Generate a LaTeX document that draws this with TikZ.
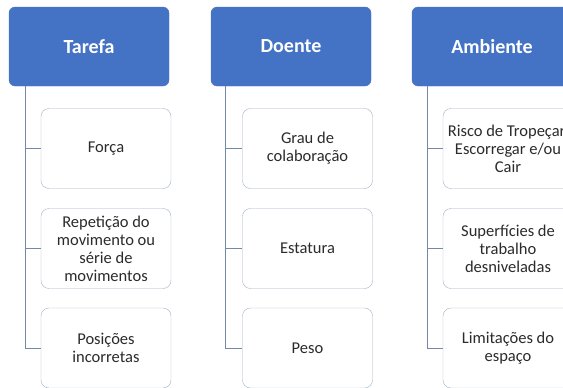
\documentclass[tikz,border=0pt]{standalone}
\usepackage{fontspec}
\setmainfont{Carlito}
\definecolor{hdblue}{HTML}{4472C4}
\definecolor{boxline}{HTML}{A3B1C6}
\definecolor{linkline}{HTML}{7488A8}
\definecolor{txtgray}{HTML}{2B2B2B}
\tikzset{
  head/.style={draw=hdblue, fill=hdblue, rounded corners=6pt, minimum width=160pt,
    minimum height=79pt, inner sep=0pt, text=white, font=\fontsize{20}{24}\selectfont\bfseries},
  item/.style={draw=boxline, fill=white, rounded corners=8pt, minimum width=130pt,
    minimum height=80pt, inner sep=0pt, align=center, text=txtgray,
    font=\fontsize{16.5}{18}\selectfont},
  link/.style={draw=linkline, line width=1pt}
}
\begin{document}
\begin{tikzpicture}[x=1pt,y=-1pt]
\useasboundingbox (0,0) rectangle (563,388);
\clip (0,0) rectangle (563,388);

\node[head] (tar) at (89,46.5) {Tarefa};
\node[head] (doe) at (291,46.5) {Doente};
\node[head] (amb) at (492,46.5) {Ambiente};

\node[item] (tar1) at (106,148.5) {Força};
\node[item] (tar2) at (106,248.5) {Repetição do\\movimento ou\\série de\\movimentos};
\node[item] (tar3) at (106,348) {Posições\\incorretas};

\node[item] (doe1) at (307.5,148.5) {Grau de\\colaboração};
\node[item] (doe2) at (307.5,248.5) {Estatura};
\node[item] (doe3) at (307.5,348) {Peso};

\node[item] (amb1) at (508,148.5) {Risco de Tropeçar,\\Escorregar e/ou\\Cair};
\node[item] (amb2) at (508,248.5) {Superfícies de\\trabalho\\desniveladas};
\node[item] (amb3) at (508,348) {Limitações do\\espaço};

\path[link] ([xshift=17pt]tar.south west) |- (tar1.west);
\path[link] ([xshift=17pt]tar.south west) |- (tar2.west);
\path[link] ([xshift=17pt]tar.south west) |- (tar3.west);

\path[link] ([xshift=15pt]doe.south west) |- (doe1.west);
\path[link] ([xshift=15pt]doe.south west) |- (doe2.west);
\path[link] ([xshift=15pt]doe.south west) |- (doe3.west);

\path[link] ([xshift=16pt]amb.south west) |- (amb1.west);
\path[link] ([xshift=16pt]amb.south west) |- (amb2.west);
\path[link] ([xshift=16pt]amb.south west) |- (amb3.west);
\end{tikzpicture}
\end{document}
